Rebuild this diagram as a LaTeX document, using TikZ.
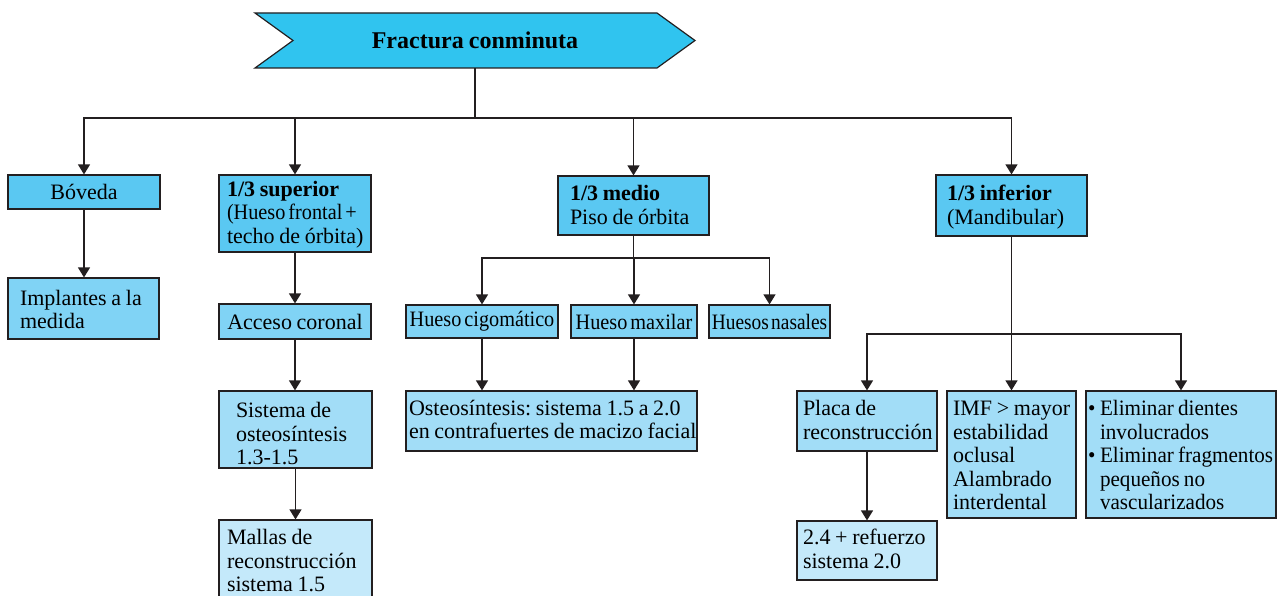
\documentclass[tikz,border=0pt]{standalone}
\usepackage{fontspec}
\setmainfont[WordSpace=0.85]{Liberation Serif}
\newfontfamily\condA[FakeStretch=0.92, WordSpace=0.6]{Liberation Serif}
\newfontfamily\condB[FakeStretch=0.88, WordSpace=0.5]{Liberation Serif}
\newfontfamily\condC[FakeStretch=0.96, WordSpace=0.8]{Liberation Serif}
\usetikzlibrary{arrows.meta}
\newcommand\boxlines[2][2.5pt]{\spaceskip=0pt\xspaceskip=0pt\raisebox{-#1}[\height][\depth]{\begin{tabular}{@{}l@{}}#2\end{tabular}}}
\definecolor{linec}{HTML}{231F20}
\definecolor{banc}{HTML}{30C4EF}
\definecolor{lva}{HTML}{5AC8F2}
\definecolor{lvb}{HTML}{80D3F5}
\definecolor{lvc}{HTML}{A2DDF7}
\definecolor{lvd}{HTML}{C4E9FA}
\tikzset{
  bx/.style={draw=linec, line width=1.2pt, inner ysep=0pt, anchor=center,
    font=\fontsize{22}{23.5}\selectfont\frenchspacing},
  lft/.style={align=left, text width=#1},
  conn/.style={draw=linec, line width=1.3pt},
  arr/.style={conn, -{Triangle[width=12pt,length=10pt]}},
}
\begin{document}
\begin{tikzpicture}[x=1pt,y=-1pt]
\useasboundingbox (0,0) rectangle (1282,596);
\clip (0,0) rectangle (1282,596);
% banner
\draw[fill=banc, draw=linec, line width=1.2pt] (255,13) -- (657,13) -- (695,40.5) -- (657,68) -- (255,68) -- (293,40.5) -- cycle;
\node[minimum width=402pt, minimum height=55pt, inner sep=0pt, font=\fontsize{24}{26}\selectfont\bfseries] (title) at (475,40.5) {Fractura conminuta};
% level 1
\node[bx, fill=lva, minimum width=152pt, minimum height=34pt, inner xsep=2pt] (boveda) at (84,192) {Bóveda};
\node[bx, fill=lva, minimum width=152pt, minimum height=77pt, lft=136pt, inner xsep=8pt] (sup) at (295,213.5) {\boxlines[1.5pt]{\textbf{1/3 superior}\\{\condA(Hueso frontal +}\\techo de órbita)}};
\node[bx, fill=lva, minimum width=151pt, minimum height=59pt, lft=127pt, inner xsep=12pt] (medio) at (633.5,205.5) {\boxlines{\textbf{1/3 medio}\\Piso de órbita}};
\node[bx, fill=lva, minimum width=151pt, minimum height=61pt, lft=129pt, inner xsep=11pt] (inf) at (1011.5,205.5) {\boxlines{\textbf{1/3 inferior}\\(Mandibular)}};
% level 2
\node[bx, fill=lvb, minimum width=151pt, minimum height=61pt, lft=127pt, inner xsep=12pt] (impl) at (83.5,308.5) {\boxlines[4pt]{Implantes a la\\medida}};
\node[bx, fill=lvb, minimum width=152pt, minimum height=35pt, inner xsep=2pt] (acceso) at (295,321.5) {Acceso coronal};
\node[bx, fill=lvb, minimum width=152pt, minimum height=33pt, inner xsep=1pt] (cigo) at (482,321.5) {\condA Hueso cigomático};
\node[bx, fill=lvb, minimum width=126pt, minimum height=33pt, inner xsep=1pt] (maxilar) at (634,321.5) {\condA Hueso maxilar};
\node[bx, fill=lvb, minimum width=121pt, minimum height=33pt, inner xsep=1pt] (nasales) at (769.5,321.5) {\condB Huesos nasales};
% level 3
\node[bx, fill=lvc, minimum width=153pt, minimum height=77pt, lft=119pt, inner xsep=17pt] (sistema) at (295.5,429.5) {\boxlines[7pt]{Sistema de\\osteosíntesis\\1.3-1.5}};
\node[bx, fill=lvc, minimum width=291pt, minimum height=60pt, lft=285pt, inner xsep=3pt] (osteo) at (551.5,421) {\boxlines[1.5pt]{Osteosíntesis: sistema 1.5 a 2.0\\en contrafuertes de macizo facial}};
\node[bx, fill=lvc, minimum width=140pt, minimum height=60pt, lft=128pt, inner xsep=6pt] (placa) at (867,421) {\boxlines[2pt]{Placa de\\reconstrucción}};
\node[bx, fill=lvc, minimum width=129pt, minimum height=127pt, lft=117pt, inner xsep=6pt] (imf) at (1011.5,454.5) {\boxlines[3.5pt]{IMF > mayor\\estabilidad\\oclusal\\Alambrado\\interdental}};
\node[bx, fill=lvc, minimum width=190pt, minimum height=127pt, lft=186pt, inner xsep=2pt] (elim) at (1181,454.5) {\condC\boxlines[3.5pt]{\makebox[12pt][l]{\textbullet}Eliminar dientes\\\hspace*{12pt}involucrados\\\makebox[12pt][l]{\textbullet}Eliminar fragmentos\\\hspace*{12pt}pequeños no\\\hspace*{12pt}vascularizados}};
% level 4
\node[bx, fill=lvd, minimum width=153pt, minimum height=82pt, lft=137pt, inner xsep=8pt] (mallas) at (295.5,561) {\boxlines{Mallas de\\reconstrucción\\sistema 1.5}};
\node[bx, fill=lvd, minimum width=140pt, minimum height=59pt, lft=128pt, inner xsep=6pt] (refuerzo) at (867,550.5) {\boxlines[1.5pt]{2.4 + refuerzo\\sistema 2.0}};
% junctions
\coordinate (j1) at (475,118);
\coordinate (j2) at (633.5,258);
\coordinate (j3) at (1011.5,334);
% connectors
\draw[conn] (title.south) -- (j1);
\draw[arr] (j1) -| (boveda.north);
\draw[arr] (j1) -| (sup.north);
\draw[arr] (j1) -| (medio.north);
\draw[arr] (j1) -| (inf.north);
\draw[arr] (boveda.south) -- (boveda.south |- impl.north);
\draw[arr] (sup.south) -- (acceso.north);
\draw[arr] (acceso.south) -- (sup.south |- sistema.north);
\draw[arr] (sistema.south) -- (mallas.north);
\draw[conn] (medio.south) -- (j2);
\draw[arr] (j2) -| (cigo.north);
\draw[arr] (j2) -| (maxilar.north);
\draw[arr] (j2) -| (nasales.north);
\draw[arr] (cigo.south) -- (cigo.south |- osteo.north);
\draw[arr] (maxilar.south) -- (maxilar.south |- osteo.north);
\draw[conn] (inf.south) -- (j3);
\draw[arr] (j3) -| (placa.north);
\draw[arr] (j3) -- (imf.north);
\draw[arr] (j3) -| (elim.north);
\draw[arr] (placa.south) -- (refuerzo.north);
\end{tikzpicture}
\end{document}
